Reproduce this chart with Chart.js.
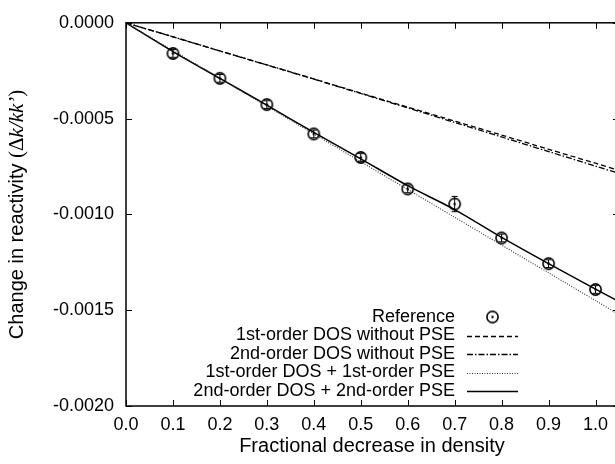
<!DOCTYPE html>
<html>
<head>
<meta charset="utf-8">
<script src="https://cdn.jsdelivr.net/npm/chart.js@4.4.1/dist/chart.umd.min.js"></script>
<style>
	html, body { margin: 0; padding: 0; background: #fff; overflow: hidden; }
	#wrap { width: 630px; height: 464px; }
</style>
</head>
<body>
<div id="wrap"><canvas id="chart" width="630" height="464"></canvas></div>
<script>
// Reactivity change vs. fractional density decrease

const xTicks = [0.0, 0.1, 0.2, 0.3, 0.4, 0.5, 0.6, 0.7, 0.8, 0.9, 1.0];
const yTicks = [0.0, -0.0005, -0.0010, -0.0015, -0.0020];

// reference points with error bars
const refX = [0.1, 0.2, 0.3, 0.4, 0.5, 0.6, 0.7, 0.8, 0.9, 1.0];
const refY = [-0.00016, -0.00029, -0.000427, -0.00058, -0.000703, -0.000867, -0.000946, -0.001123, -0.001257, -0.001392];
const refErr = [0.00002, 0.00002, 0.00002, 0.00002, 0.00002, 0.00002, 0.00004, 0.00002, 0.00002, 0.00002];

// calculated curves
const lineX = [0.0, 0.1, 0.2, 0.3, 0.4, 0.5, 0.6, 0.7, 0.8, 0.9, 1.0, 1.05];
const dos1NoPse = [0, -0.0000733, -0.000147, -0.00022, -0.000293, -0.000367, -0.00044, -0.000513, -0.000586, -0.00066, -0.000733, -0.00077];
const dos2NoPse = [0, -0.000073, -0.000147, -0.00022, -0.000294, -0.000369, -0.000444, -0.00052, -0.000596, -0.000672, -0.000748, -0.000786];
const dos1Pse1 = [0, -0.000145, -0.00029, -0.000435, -0.00058, -0.000725, -0.00087, -0.001015, -0.00116, -0.001305, -0.00145, -0.001523];
const dos2Pse2 = [0, -0.00015, -0.00029, -0.00043, -0.000572, -0.00071, -0.00085, -0.000975, -0.00112, -0.001257, -0.00139, -0.001455];

const legendLabels = [
	'Reference',
	'1st-order DOS without PSE',
	'2nd-order DOS without PSE',
	'1st-order DOS + 1st-order PSE',
	'2nd-order DOS + 2nd-order PSE'
];

const SANS = '"Liberation Sans", Arial, sans-serif';
const SERIF = '"Liberation Serif", "Times New Roman", serif';

// circled-dot marker
const marker = document.createElement('canvas');
marker.width = 15;
marker.height = 15;
(function () {
	const m = marker.getContext('2d');
	m.strokeStyle = '#000';
	m.lineWidth = 1.6;
	m.beginPath();
	m.arc(7.5, 7.5, 5.6, 0, Math.PI * 2);
	m.stroke();
	m.fillStyle = '#000';
	m.beginPath();
	m.arc(7.5, 7.5, 1.2, 0, Math.PI * 2);
	m.fill();
})();

function pts(xs, ys) {
	return xs.map((x, i) => ({ x: x, y: ys[i] }));
}

const lineStyles = [
	null,
	{ dash: [5, 3], width: 1.3, color: '#000' },
	{ dash: [6, 2, 1.5, 2], width: 1.3, color: '#000' },
	{ dash: [1, 1.5], width: 1.1, color: '#333' },
	{ dash: [], width: 1.5, color: '#000' }
];

const framePlugin = {
	id: 'frame',
	afterDatasetsDraw(chart) {
		const { ctx, chartArea: a, scales } = chart;
		const xs = scales.x, ys = scales.y;
		ctx.save();
		// error bars
		ctx.strokeStyle = '#000';
		ctx.lineWidth = 1;
		refX.forEach((x, i) => {
			const px = xs.getPixelForValue(x);
			const y1 = ys.getPixelForValue(refY[i] - refErr[i]);
			const y2 = ys.getPixelForValue(refY[i] + refErr[i]);
			ctx.beginPath();
			ctx.moveTo(px, y1); ctx.lineTo(px, y2);
			ctx.moveTo(px - 3, y1); ctx.lineTo(px + 3, y1);
			ctx.moveTo(px - 3, y2); ctx.lineTo(px + 3, y2);
			ctx.stroke();
		});
		// box
		ctx.lineWidth = 1.5;
		ctx.strokeRect(a.left, a.top, a.right - a.left, a.bottom - a.top);
		// inward ticks
		ctx.lineWidth = 1;
		xTicks.forEach(v => {
			const px = Math.round(xs.getPixelForValue(v)) + 0.5;
			ctx.beginPath();
			ctx.moveTo(px, a.bottom); ctx.lineTo(px, a.bottom - 6);
			ctx.moveTo(px, a.top); ctx.lineTo(px, a.top + 6);
			ctx.stroke();
		});
		yTicks.forEach(v => {
			const py = Math.round(ys.getPixelForValue(v)) + 0.5;
			ctx.beginPath();
			ctx.moveTo(a.left, py); ctx.lineTo(a.left + 6, py);
			ctx.moveTo(a.right, py); ctx.lineTo(a.right - 6, py);
			ctx.stroke();
		});
		ctx.restore();
	},
	afterDraw(chart) {
		const { ctx, chartArea: a } = chart;
		ctx.save();
		ctx.fillStyle = '#000';
		// legend, text right-aligned, sample on the right
		ctx.font = '18px ' + SANS;
		ctx.textAlign = 'right';
		ctx.textBaseline = 'middle';
		const textRight = 455, s0 = 467, s1 = 518;
		legendLabels.forEach((lab, i) => {
			const y = 317 + i * 18.5;
			ctx.fillText(lab, textRight, y);
			if (i === 0) {
				ctx.drawImage(marker, (s0 + s1) / 2 - 7.5, y - 7.5);
			} else {
				const st = lineStyles[i];
				ctx.strokeStyle = st.color;
				ctx.lineWidth = st.width;
				ctx.setLineDash(st.dash);
				ctx.beginPath();
				ctx.moveTo(s0, Math.round(y) + 0.5);
				ctx.lineTo(s1, Math.round(y) + 0.5);
				ctx.stroke();
			}
		});
		ctx.setLineDash([]);
		// x title
		ctx.textAlign = 'center';
		ctx.font = '20px ' + SANS;
		ctx.fillText('Fractional decrease in density', 372, 446);
		// y title with italic part
		const parts = [
			{ t: 'Change in reactivity ', f: '20px ' + SANS },
			{ t: '(\u0394', f: '21px ' + SERIF },
			{ t: 'k/kk\u2019', f: 'italic 21px ' + SERIF },
			{ t: ')', f: '21px ' + SERIF }
		];
		let total = 0;
		parts.forEach(p => { ctx.font = p.f; p.w = ctx.measureText(p.t).width; total += p.w; });
		ctx.translate(17, (a.top + a.bottom) / 2);
		ctx.rotate(-Math.PI / 2);
		ctx.textAlign = 'left';
		let cx = -total / 2;
		parts.forEach(p => { ctx.font = p.f; ctx.fillText(p.t, cx, 0); cx += p.w; });
		ctx.restore();
	}
};

const ctx = document.getElementById('chart').getContext('2d');
const chart = new Chart(ctx, {
	type: 'scatter',
	data: {
		datasets: [
			{
				label: legendLabels[0],
				data: pts(refX, refY),
				pointStyle: marker,
				pointRadius: 6,
				showLine: false
			},
			...[dos1NoPse, dos2NoPse, dos1Pse1, dos2Pse2].map((ys, k) => ({
				label: legendLabels[k + 1],
				data: pts(lineX, ys),
				showLine: true,
				pointRadius: 0,
				borderColor: lineStyles[k + 1].color,
				borderWidth: lineStyles[k + 1].width,
				borderDash: lineStyles[k + 1].dash,
				tension: 0.3,
				fill: false
			}))
		]
	},
	options: {
		responsive: false,
		devicePixelRatio: 1,
		animation: false,
		events: [],
		layout: { padding: { top: 20, right: 11, bottom: 0, left: 0 } },
		plugins: {
			legend: { display: false },
			tooltip: { enabled: false }
		},
		scales: {
			x: {
				type: 'linear',
				min: 0,
				max: 1.05,
				afterBuildTicks: s => { s.ticks = xTicks.map(v => ({ value: v })); },
				afterFit: s => { s.height = 58; },
				grid: { display: false, drawTicks: false },
				border: { display: false },
				ticks: {
					color: '#000',
					font: { family: SANS, size: 18 },
					padding: 8,
					maxRotation: 0,
					callback: v => v.toFixed(1)
				}
			},
			y: {
				type: 'linear',
				min: -0.002,
				max: 0,
				afterBuildTicks: s => { s.ticks = yTicks.map(v => ({ value: v })); },
				afterFit: s => { s.width = 126; },
				grid: { display: false, drawTicks: false },
				border: { display: false },
				ticks: {
					color: '#000',
					font: { family: SANS, size: 18 },
					padding: 12,
					callback: v => (Math.abs(v) < 1e-12 ? 0 : v).toFixed(4)
				}
			}
		}
	},
	plugins: [framePlugin]
});
</script>
</body>
</html>
